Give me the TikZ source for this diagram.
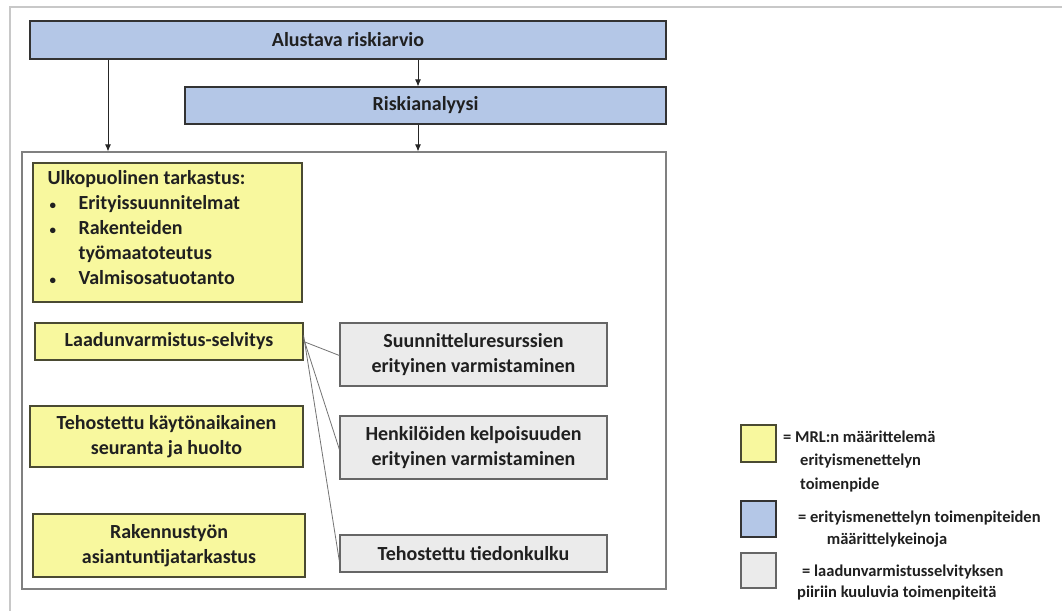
\documentclass[tikz,border=0pt]{standalone}
\usepackage{fontspec}
\setmainfont{Carlito}
\usetikzlibrary{arrows.meta}
\definecolor{yfill}{HTML}{F8F89E}
\definecolor{bfill}{HTML}{B4C7E7}
\definecolor{gfill}{HTML}{EBEBEB}
\definecolor{frame}{HTML}{C8C8C8}
\definecolor{txt}{HTML}{202020}
\definecolor{yborder}{HTML}{4A4A32}
\newcommand{\bul}{\makebox[31pt][l]{\hspace*{2pt}\fontsize{13}{25}\selectfont\textbullet}}
\tikzset{
  base/.style={draw=black!75, line width=1.2pt, inner sep=0pt, font=\bfseries\fontsize{20}{25}\selectfont, text=txt, align=center},
  ybox/.style={base, fill=yfill, draw=yborder},
  bbox/.style={base, fill=bfill, draw=black!80},
  gbox/.style={base, fill=gfill, draw=black!60},
  arr/.style={-{Latex[length=7pt,width=6pt]}, line width=0.8pt, draw=black!85},
  conn/.style={line width=0.8pt, draw=black!55},
  legtxt/.style={font=\bfseries\fontsize{16.5}{20}\selectfont, text=txt, inner sep=0pt, anchor=west, align=left}
}
\begin{document}
\begin{tikzpicture}[x=1pt,y=-1pt]
\useasboundingbox (0,0) rectangle (1062,610);
\fill[white] (0,0) rectangle (1062,610);
% outer frame
\draw[frame, line width=1.2pt] (10,612) -- (10,7) -- (1064,7);
% big container
\node[draw=black!50, line width=1.2pt, fill=white, minimum width=644pt, minimum height=437pt, inner sep=0pt] (big) at (344,370.5) {};
% top boxes
\node[bbox, minimum width=636pt, minimum height=38pt] (alu) at (348,40) {Alustava riskiarvio};
\node[bbox, minimum width=481pt, minimum height=37pt] (ria) at (425.5,105.5) {Riskianalyysi};
\coordinate (xl) at (108,0);
\coordinate (xm) at (418,0);
\draw[arr] (alu.south -| xl) -- (big.north -| xl);
\draw[arr] (alu.south -| xm) -- (ria.north -| xm);
\draw[arr] (ria.south -| xm) -- (big.north -| xm);
% yellow boxes
\node[ybox, minimum width=269pt, minimum height=139pt] (ulk) at (167.5,232.5) {};
\node[base, draw=none, anchor=north west, align=left] (ulkt) at (47,170) {Ulkopuolinen tarkastus:\\
\bul Erityissuunnitelmat\\
\bul Rakenteiden\\
\hspace*{31pt}työmaatoteutus\\
\bul Valmisosatuotanto};
\node[ybox, minimum width=268pt, minimum height=37pt] (lv) at (169,341.5) {Laadunvarmistus-selvitys};
\node[ybox, minimum width=273pt, minimum height=61pt] (teh) at (166.5,436.5) {Tehostettu käytönaikainen\\ seuranta ja huolto};
\node[ybox, minimum width=272pt, minimum height=63pt] (rak) at (169,545.5) {Rakennustyön\\ asiantuntijatarkastus};
% gray boxes
\node[gbox, minimum width=267pt, minimum height=63pt] (s1) at (473.5,354.5) {Suunnitteluresurssien\\ erityinen varmistaminen};
\node[gbox, minimum width=267pt, minimum height=63pt] (s2) at (473.5,447.5) {Henkilöiden kelpoisuuden\\ erityinen varmistaminen};
\node[gbox, minimum width=267pt, minimum height=37pt] (s3) at (473.5,553.5) {Tehostettu tiedonkulku};
% connectors
\draw[conn] ([yshift=0pt]lv.east) -- ([yshift=-1pt]s1.west);
\draw[conn] ([yshift=3pt]lv.east) -- ([yshift=-2pt]s2.west);
\draw[conn] ([yshift=6pt]lv.east) -- ([yshift=-8pt]s3.west);
% legend
\node[ybox, minimum width=35pt, minimum height=37pt] (ly) at (758.5,443.5) {};
\node[bbox, minimum width=35pt, minimum height=36pt] (lb) at (758.5,519) {};
\node[gbox, minimum width=35pt, minimum height=35pt] (lg) at (758.5,570.5) {};
\node[legtxt] (t1) at (783,437) {= MRL:n määrittelemä};
\node[legtxt] (t2) at (800,461) {erityismenettelyn};
\node[legtxt] (t3) at (800,485) {toimenpide};
\node[legtxt] (t4) at (798,518) {= erityismenettelyn toimenpiteiden};
\node[legtxt, anchor=center] (t5) at (887,540) {määrittelykeinoja};
\node[legtxt] (t6) at (802,572) {= laadunvarmistusselvityksen};
\node[legtxt] (t7) at (797,593) {piiriin kuuluvia toimenpiteitä};
\end{tikzpicture}
\end{document}
